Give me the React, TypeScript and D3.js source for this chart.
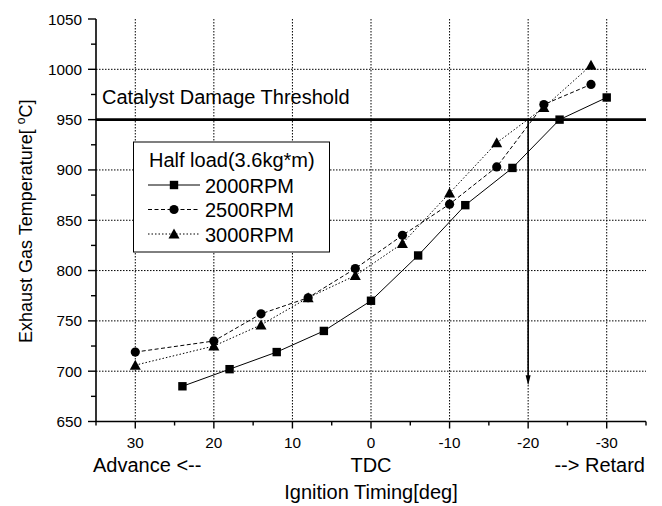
import React from "react";
import * as d3 from "d3";

const xs2000 = [24, 18, 12, 6, 0, -6, -12, -18, -24, -30];
const ys2000 = [685, 702, 719, 740, 770, 815, 865, 902, 950, 972];
const xs2500 = [30, 20, 14, 8, 2, -4, -10, -16, -22, -28];
const ys2500 = [719, 730, 757, 773, 802, 835, 866, 903, 965, 985];
const xs3000 = [30, 20, 14, 8, 2, -4, -10, -16, -22, -28];
const ys3000 = [706, 725, 746, 773, 795, 827, 877, 927, 962, 1004];
const xTicks = [30, 20, 10, 0, -10, -20, -30];
const xMinor = [35, 25, 15, 5, -5, -15, -25, -35];
const yTicks = [650, 700, 750, 800, 850, 900, 950, 1000, 1050];
const yMinor = [675, 725, 775, 825, 875, 925, 975, 1025];
const seriesNames = ["2000RPM", "2500RPM", "3000RPM"];
const threshold = 950;
const arrowX = -20;
const arrowEnd = 686;

const FONT = "Liberation Sans, Arial, sans-serif";

export default function App() {
  const W = 662, H = 506;
  const x = d3.scaleLinear().domain([35, -35]).range([96, 646]);
  const y = d3.scaleLinear().domain([650, 1050]).range([421.5, 19]);
  const line = d3.line<[number, number]>().x(d => x(d[0])).y(d => y(d[1]));
  const zip = (a: number[], b: number[]) => a.map((v, i) => [v, b[i]] as [number, number]);
  const s1 = zip(xs2000, ys2000);
  const s2 = zip(xs2500, ys2500);
  const s3 = zip(xs3000, ys3000);
  const dashes = [undefined, "4,2.5", "1.5,2"];
  const sq = (cx: number, cy: number, k: string) => <rect key={k} x={cx - 4.2} y={cy - 4.2} width={8.4} height={8.4} fill="#000" />;
  const ci = (cx: number, cy: number, k: string) => <circle key={k} cx={cx} cy={cy} r={4.6} fill="#000" />;
  const tr = (cx: number, cy: number, k: string) => <path key={k} d={`M${cx},${cy - 5.5}L${cx + 5.5},${cy + 4.5}L${cx - 5.5},${cy + 4.5}Z`} fill="#000" />;
  const markers = [sq, ci, tr];
  const x0 = 96, x1 = 646, yTop = 19, yBot = y(650);
  const legendItems = [0, 1, 2];
  return (
    <svg width={W} height={H} style={{ position: "absolute", left: 0, top: 0 }} fontFamily={FONT}>
      <rect width={W} height={H} fill="#fff" />
      {/* grid */}
      {xTicks.map(t => (
        <line key={"gx" + t} x1={x(t)} x2={x(t)} y1={yTop} y2={yBot} stroke="#000" strokeWidth={1} strokeDasharray="1.5,1.5" />
      ))}
      {yTicks.filter(t => t > 650 && t < 1050).map(t => (
        <line key={"gy" + t} x1={x0} x2={x1} y1={y(t)} y2={y(t)} stroke="#000" strokeWidth={1} strokeDasharray="1.5,1.5" />
      ))}
      {/* threshold */}
      <line x1={x0} x2={x1} y1={y(threshold)} y2={y(threshold)} stroke="#000" strokeWidth={2.6} />
      <text x={102} y={103.5} fontSize={20}>Catalyst Damage Threshold</text>
      {/* arrow */}
      <line x1={x(arrowX)} x2={x(arrowX)} y1={y(threshold)} y2={y(arrowEnd) - 6} stroke="#000" strokeWidth={1.6} />
      <path d={`M${x(arrowX)},${y(arrowEnd)}L${x(arrowX) + 2.5},${y(arrowEnd) - 10}L${x(arrowX) - 2.5},${y(arrowEnd) - 10}Z`} fill="#000" />
      {/* series */}
      {[s1, s2, s3].map((s, i) => (
        <path key={"l" + i} d={line(s) || ""} fill="none" stroke="#000" strokeWidth={1} strokeDasharray={dashes[i]} />
      ))}
      {[s1, s2, s3].map((s, i) => s.map((p, j) => markers[i](x(p[0]), y(p[1]), `m${i}-${j}`)))}
      {/* axes */}
      <line x1={x0} x2={x0} y1={yTop} y2={yBot} stroke="#000" strokeWidth={1.6} />
      <line x1={x0} x2={x1} y1={yBot} y2={yBot} stroke="#000" strokeWidth={1.6} />
      {yTicks.map(t => (
        <g key={"yt" + t}>
          <line x1={x0 - 8} x2={x0} y1={y(t)} y2={y(t)} stroke="#000" strokeWidth={1.4} />
          <text x={82} y={y(t) + 5.5} textAnchor="end" fontSize={15.3}>{t}</text>
        </g>
      ))}
      {yMinor.map(t => (
        <line key={"ym" + t} x1={x0 - 5} x2={x0} y1={y(t)} y2={y(t)} stroke="#000" strokeWidth={1.4} />
      ))}
      {xTicks.map(t => (
        <g key={"xt" + t}>
          <line x1={x(t)} x2={x(t)} y1={yBot} y2={yBot + 7} stroke="#000" strokeWidth={1.4} />
          <text x={x(t)} y={448} textAnchor="middle" fontSize={15.3}>{t}</text>
        </g>
      ))}
      {xMinor.map(t => (
        <line key={"xm" + t} x1={x(t)} x2={x(t)} y1={yBot} y2={yBot + 4} stroke="#000" strokeWidth={1.4} />
      ))}
      {/* axis titles */}
      <text x={93} y={472} fontSize={20}>Advance &lt;--</text>
      <text x={x(0)} y={472} fontSize={20} textAnchor="middle">TDC</text>
      <text x={645} y={472} fontSize={20} textAnchor="end">--&gt; Retard</text>
      <text x={x(0)} y={499} fontSize={20} textAnchor="middle">Ignition Timing[deg]</text>
      <text transform={`translate(32,${(yTop + yBot) / 2 + 1}) rotate(-90)`} textAnchor="middle" fontSize={18}>
        Exhaust Gas Temperature[ <tspan dy={-7} fontSize={12}>o</tspan><tspan dy={7}>C]</tspan>
      </text>
      {/* legend */}
      <rect x={133.5} y={142} width={196} height={110} fill="#fff" stroke="#000" strokeWidth={1} />
      <text x={149} y={167} fontSize={20}>Half load(3.6kg*m)</text>
      {legendItems.map(i => {
        const ly = 185 + i * 24.5;
        return (
          <g key={"lg" + i}>
            <line x1={148} x2={200} y1={ly} y2={ly} stroke="#000" strokeWidth={1} strokeDasharray={dashes[i]} />
            {markers[i](174, ly, "lm" + i)}
            <text x={205} y={ly + 7.5} fontSize={20}>{seriesNames[i]}</text>
          </g>
        );
      })}
    </svg>
  );
}
